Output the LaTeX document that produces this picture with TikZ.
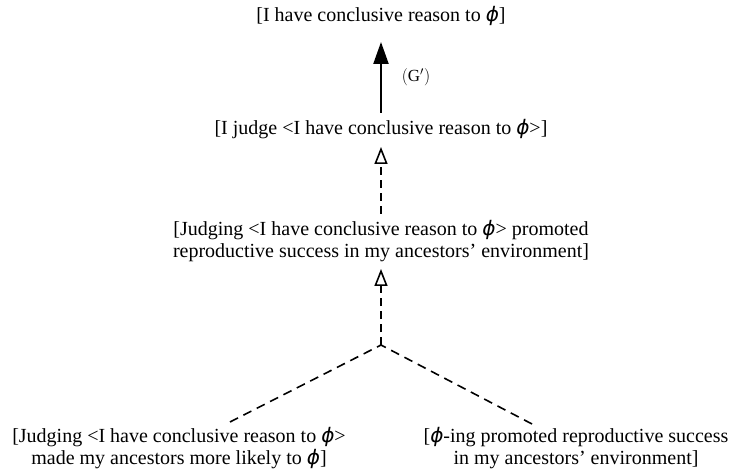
\documentclass[tikz,border=0pt]{standalone}
\usepackage{fontspec}
\setmainfont{Liberation Serif}
\newfontfamily\phifont{DejaVu Sans}
\usetikzlibrary{arrows.meta,calc}
\newcommand{\ph}{{\phifont\itshape ϕ}}
\begin{document}
\begin{tikzpicture}[x=1pt,y=1pt,
  txt/.style={align=center,inner sep=0pt,font=\fontsize{20}{22}\selectfont},
  solidarrow/.style={line width=2.2pt,-{Triangle[length=22pt,width=15pt]}},
  dasharrow/.style={line width=1.6pt,dash pattern=on 8pt off 5pt,-{Triangle[open,length=17pt,width=13pt,line width=1.6pt]}},
  dashline/.style={line width=1.6pt,dash pattern=on 9pt off 6pt}]
\useasboundingbox (0,0) rectangle (734,-473);
\node[txt] (n1) at (381,-16) {[I have conclusive reason to \ph]};
\node[txt] (n2) at (381,-129) {[I judge <I have conclusive reason to \ph>]};
\node[txt] (n3) at (381,-241) {[Judging <I have conclusive reason to \ph> promoted\\reproductive success in my ancestors' environment]};
\node[txt] (bl) at (179,-448) {[Judging <I have conclusive reason to \ph>\\made my ancestors more likely to \ph]};
\node[txt] (br) at (576,-448) {[\ph-ing promoted reproductive success\\in my ancestors' environment]};
\node[inner sep=0pt,font=\fontsize{17}{19}\selectfont] (g) at (416,-77) {$(\mathrm{G}')$};
\coordinate (j) at (381,-345);
\coordinate (ble) at (230,-422);
\coordinate (bre) at (532,-424);
\draw[solidarrow] (n2.north |- 0,-113) -- (n1.south |- 0,-42);
\draw[dasharrow] (n3.north |- 0,-214) -- (n2.south |- 0,-147);
\draw[dasharrow] (j) -- (n3.south |- 0,-269);
\draw[dashline] (ble) -- (j);
\draw[dashline] (bre) -- (j);
\end{tikzpicture}
\end{document}
